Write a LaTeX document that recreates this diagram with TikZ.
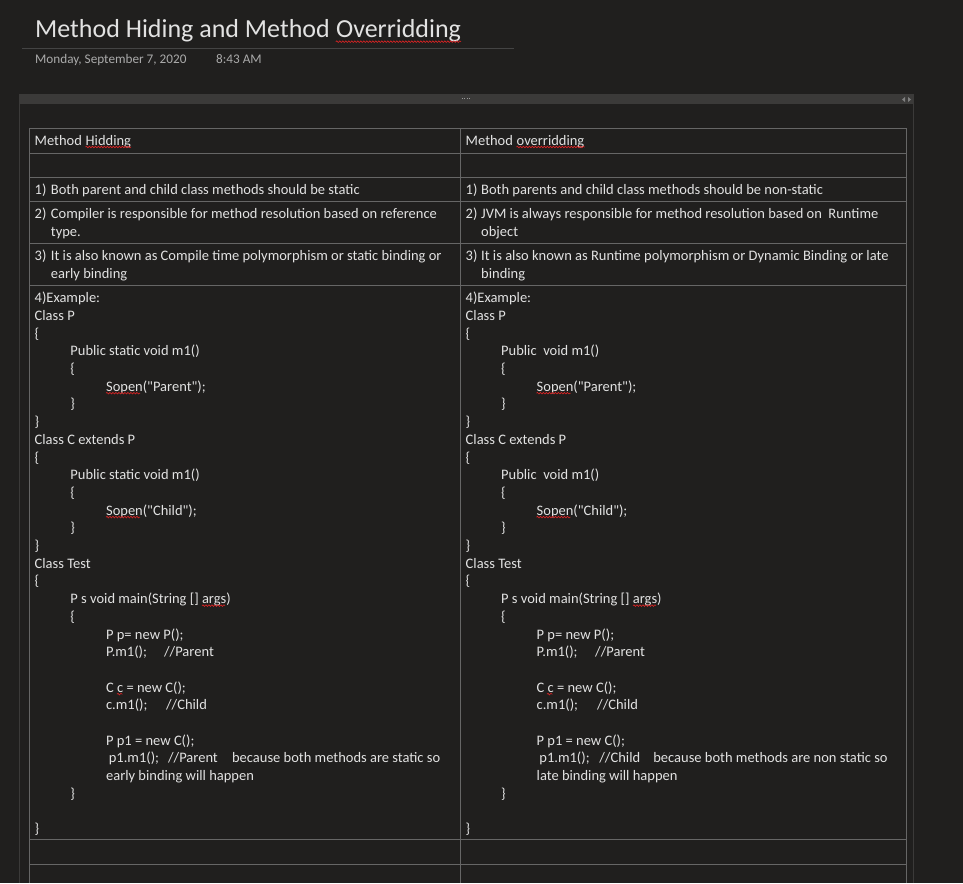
\documentclass[tikz,border=0pt]{standalone}
\usepackage{fontspec}
\setmainfont{Carlito}[Ligatures=TeXOff]
\usetikzlibrary{positioning,decorations.pathmorphing}

\definecolor{pagebg}{RGB}{32,31,30}
\definecolor{barcol}{RGB}{59,58,57}
\definecolor{rulecol}{RGB}{68,68,68}
\definecolor{gridcol}{RGB}{102,102,102}
\definecolor{inkcol}{RGB}{226,226,226}
\definecolor{datecol}{RGB}{170,170,170}
\definecolor{spellcol}{RGB}{225,35,35}

\tikzset{
  txt/.style={inner sep=0pt, anchor=base west, text=inkcol, font=\fontsize{14.5pt}{17.7pt}\selectfont},
  titletxt/.style={txt, font=\fontsize{26pt}{32pt}\selectfont},
  datetxt/.style={txt, text=datecol, font=\fontsize{13.2pt}{16pt}\selectfont},
  gridline/.style={draw=gridcol, line width=1pt},
  spell/.style={draw=spellcol, line width=0.6pt, decorate, decoration={snake, amplitude=0.8pt, segment length=3pt}},
}

\begin{document}
\begin{tikzpicture}[x=1pt, y=-1pt]
        % page
        \fill[pagebg] (0,0) rectangle (963,883);
        \useasboundingbox (0,0) rectangle (963,883);

        % Title and date
        \node[titletxt] (title) at (35,37.7) {Method Hiding and Method};
        \node[titletxt, base right=5.8pt of title] (titlew) {Overridding};
        \draw[rulecol, line width=1pt] (22,48.5) -- (514,48.5);
        \node[datetxt] (date) at (35,63.3) {Monday, September 7, 2020};
        \node[datetxt] (time) at (216,63.3) {8:43 AM};

        % Container
        \fill[barcol] (19,94) rectangle (914,104);
        \draw[barcol, line width=1pt] (19.5,104) -- (19.5,883);
        \draw[barcol, line width=1pt] (913.5,104) -- (913.5,883);
        \foreach \i in {0,...,3}
            \fill[gray!80] ({461.5+2.5*\i},98) rectangle ++(1.2,1.2);
        \fill[gray] (902,99.5) -- (905,97) -- (905,102) -- cycle;
        \fill[gray] (911,99.5) -- (908,97) -- (908,102) -- cycle;

        % Table
        \foreach \y in {128.5,153,177,201,243,285,839.5,864}
            \draw[gridline] (29.5,\y) -- (906,\y);
        \foreach \x in {29.5,460,906}
            \draw[gridline] (\x,128) -- (\x,883);

        % Header row
        \node[txt] (hl) at (34.5,145) {Method};
        \node[txt, base right=3.3pt of hl] (hw) {Hidding};
        \node[txt] (ol) at (465.5,145) {Method};
        \node[txt, base right=3.3pt of ol] (ow) {overridding};

        % Rows 1) - 3)
        \node[txt] (l1) at (34.5,194.3) {\makebox[16.2pt][l]{1)}Both parent and child class methods should be static};
        \node[txt] (l2) at (34.5,218.7) {\makebox[16.2pt][l]{2)}Compiler is responsible for method resolution based on reference};
        \node[txt] (l2b) at (50.7,236.4) {type.};
        \node[txt] (l3) at (34.5,260.7) {\makebox[16.2pt][l]{3)}It is also known as Compile time polymorphism or static binding or};
        \node[txt] (l3b) at (50.7,278.4) {early binding};

        \node[txt] (r1) at (465.5,194.3) {\makebox[15.5pt][l]{1)}Both parents and child class methods should be non-static};
        \node[txt] (r2) at (465.5,218.7) {\makebox[15.5pt][l]{2)}JVM is always responsible for method resolution based on\ \ Runtime};
        \node[txt] (r2b) at (481,236.4) {object};
        \node[txt] (r3) at (465.5,260.7) {\makebox[15.5pt][l]{3)}It is also known as Runtime polymorphism or Dynamic Binding or late};
        \node[txt] (r3b) at (481,278.4) {binding};

        % Example, method hiding
        \foreach \r/\l/\t in {
            0/0/{4)Example:}, 1/0/{Class P}, 2/0/{\{},
            3/1/{Public static void m1()}, 4/1/{\{}, 5/2/{Sopen("Parent");}, 6/1/{\}}, 7/0/{\}},
            8/0/{Class C extends P}, 9/0/{\{},
            10/1/{Public static void m1()}, 11/1/{\{}, 12/2/{Sopen("Child");}, 13/1/{\}}, 14/0/{\}},
            15/0/{Class Test}, 16/0/{\{},
            17/1/{P s void main(String [] args)}, 18/1/{\{},
            19/2/{P p= new P();}, 20/2/{\makebox[58pt][l]{P.m1();}//Parent},
            22/2/{C c = new C();}, 23/2/{\makebox[60pt][l]{c.m1();}//Child},
            25/2/{P p1 = new C();},
            26/2/{\hspace*{2.7pt}\makebox[59.3pt][l]{p1.m1();}\makebox[64pt][l]{//Parent}because both methods are static so},
            27/2/{early binding will happen},
            28/1/{\}}, 30/0/{\}}}
            \node[txt] (hide-\r) at ({34.5+35.7*\l},{302.7+17.7*\r}) {\t};

        % Example, method overriding
        \foreach \r/\l/\t in {
            0/0/{4)Example:}, 1/0/{Class P}, 2/0/{\{},
            3/1/{Public\ \ void m1()}, 4/1/{\{}, 5/2/{Sopen("Parent");}, 6/1/{\}}, 7/0/{\}},
            8/0/{Class C extends P}, 9/0/{\{},
            10/1/{Public\ \ void m1()}, 11/1/{\{}, 12/2/{Sopen("Child");}, 13/1/{\}}, 14/0/{\}},
            15/0/{Class Test}, 16/0/{\{},
            17/1/{P s void main(String [] args)}, 18/1/{\{},
            19/2/{P p= new P();}, 20/2/{\makebox[58.5pt][l]{P.m1();}//Parent},
            22/2/{C c = new C();}, 23/2/{\makebox[60.5pt][l]{c.m1();}//Child},
            25/2/{P p1 = new C();},
            26/2/{\hspace*{2.7pt}\makebox[60pt][l]{p1.m1();}\makebox[54pt][l]{//Child}because both methods are non static so},
            27/2/{late binding will happen},
            28/1/{\}}, 30/0/{\}}}
            \node[txt] (over-\r) at ({465.5+35.5*\l},{302.7+17.7*\r}) {\t};

        % Spelling marks
        \draw[spell] ([yshift=-4pt]titlew.base west) -- ([yshift=-4pt]titlew.base east);
        \draw[spell] ([yshift=-2pt]hw.base west) -- ([yshift=-2pt]hw.base east);
        \draw[spell] ([yshift=-2pt]ow.base west) -- ([yshift=-2pt]ow.base east);
        \foreach \x/\w/\y in {106/34/393.2, 106/34/517.1, 202/23/605.6, 117/5.5/694.1,
                              536.5/34/393.2, 536.5/34/517.1, 633/23/605.6, 547/5.5/694.1}
            \draw[spell] (\x,\y) -- ++(\w,0);
\end{tikzpicture}
\end{document}
